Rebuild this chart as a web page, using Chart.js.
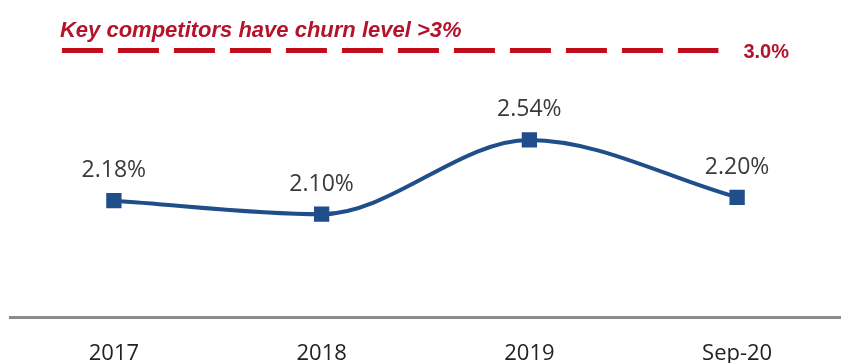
<!DOCTYPE html>
<html>
<head>
<meta charset="utf-8">
<script src="https://cdn.jsdelivr.net/npm/chart.js@4/dist/chart.umd.min.js"></script>
<style>
  html, body { margin: 0; padding: 0; background: #fff; overflow: hidden; }
  #churnChart { display: block; }
</style>
</head>
<body>
<canvas id="churnChart" width="841" height="363"></canvas>
<script>
// Churn by period
const periods = ["2017", "2018", "2019", "Sep-20"];
const churnRates = [2.18, 2.10, 2.54, 2.20];

// Competitor benchmark line
const benchmarkLevel = 3.0;
const benchmarkSpan = [-0.25, 2.91];
const benchmarkTitle = "Key competitors have churn level >3%";

const blue = "#1f4e8a";
const red = "#c00d1c";
const redText = "#b3142c";

// Value labels above the churn points, plus the benchmark caption and value
const labelPlugin = {
  id: "churnLabels",
  afterDatasetsDraw(chart) {
    const ctx = chart.ctx;
    ctx.save();

    const churnMeta = chart.getDatasetMeta(0);
    ctx.font = "23px 'Open Sans'";
    ctx.fillStyle = "#3a3a3a";
    ctx.textAlign = "center";
    ctx.textBaseline = "middle";
    churnMeta.data.forEach((pt, i) => {
      ctx.fillText(churnRates[i].toFixed(2) + "%", pt.x, pt.y - 30);
    });

    const benchMeta = chart.getDatasetMeta(1);
    const first = benchMeta.data[0];
    const last = benchMeta.data[benchMeta.data.length - 1];
    ctx.fillStyle = redText;
    ctx.textAlign = "left";
    ctx.textBaseline = "alphabetic";
    ctx.font = "italic bold 22px 'Liberation Sans'";
    ctx.fillText(benchmarkTitle, first.x - 2, first.y - 14);
    ctx.font = "bold 20px 'Liberation Sans'";
    ctx.fillText(benchmarkLevel.toFixed(1) + "%", last.x + 25, last.y + 7);

    ctx.restore();
  }
};

const ctx = document.getElementById("churnChart").getContext("2d");
new Chart(ctx, {
  type: "line",
  data: {
    datasets: [
      {
        label: "Churn",
        data: churnRates.map((v, i) => ({ x: i, y: v })),
        borderColor: blue,
        backgroundColor: blue,
        borderWidth: 4,
        cubicInterpolationMode: "monotone",
        pointStyle: "rect",
        pointRadius: 8,
        pointHoverRadius: 8,
        yAxisID: "y"
      },
      {
        label: "Competitors",
        data: benchmarkSpan.map(x => ({ x: x, y: benchmarkLevel })),
        borderColor: red,
        borderWidth: 5,
        borderDash: [41, 15],
        pointRadius: 0,
        yAxisID: "y2"
      }
    ]
  },
  options: {
    responsive: false,
    animation: false,
    devicePixelRatio: 1,
    layout: { autoPadding: false, padding: { left: 10, right: 0, top: 0, bottom: 0 } },
    plugins: {
      legend: { display: false },
      tooltip: { enabled: false }
    },
    scales: {
      x: {
        type: "linear",
        min: -0.5,
        max: 3.5,
        afterBuildTicks: scale => {
          scale.ticks = periods.map((p, i) => ({ value: i }));
        },
        afterFit: scale => {
          scale.height = 46;
        },
        grid: { display: false, drawTicks: false },
        border: { display: true, color: "#8c8c8c", width: 3 },
        ticks: {
          padding: 26,
          color: "#222",
          font: { family: "'Open Sans'", size: 22, lineHeight: 1 },
          callback: v => periods[v]
        }
      },
      y: {
        display: false,
        min: 1.49,
        max: 3.37
      },
      y2: {
        display: false,
        min: 0,
        max: 3.57
      }
    }
  },
  plugins: [labelPlugin]
});
</script>
</body>
</html>
